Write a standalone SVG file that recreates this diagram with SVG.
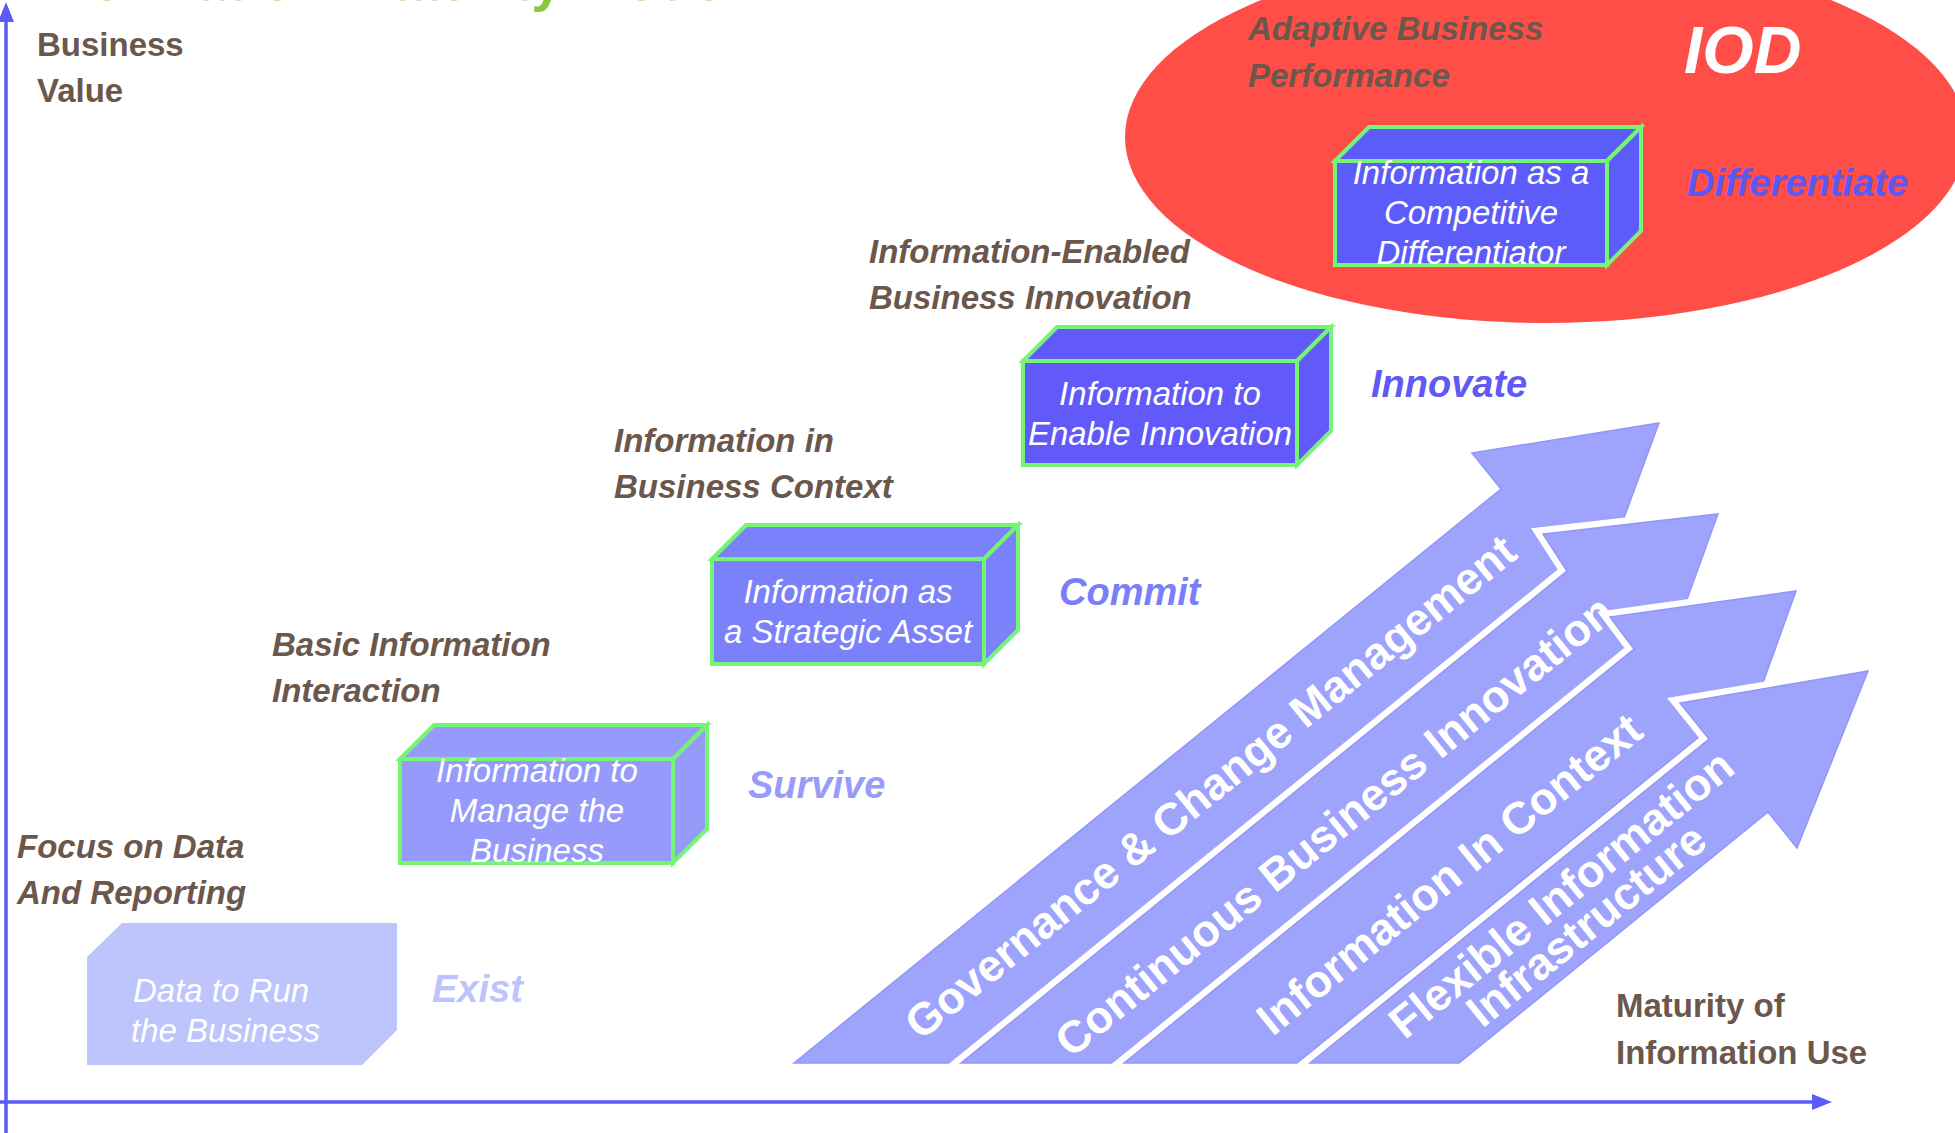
<svg xmlns="http://www.w3.org/2000/svg" xmlns:xlink="http://www.w3.org/1999/xlink" width="1955" height="1133" viewBox="0 0 1955 1133">
<style>
text { font-family: "Liberation Sans", Arial, sans-serif; }
.lbl { font-style: italic; font-weight: bold; font-size: 33px; fill: #6B574C; }
.axl { font-weight: bold; font-size: 33px; fill: #6B574C; }
.stage { font-style: italic; font-weight: bold; font-size: 38px; }
.btx { font-style: italic; font-size: 33px; fill: #FFFFFF; text-anchor: middle; }
.atx { font-weight: bold; font-size: 45px; fill: #FFFFFF; text-anchor: middle; }
.box { stroke: #74F674; stroke-width: 4; stroke-linejoin: miter; }
.arr { fill: #9EA3FC; stroke: #FFFFFF; stroke-width: 14; stroke-linejoin: miter; paint-order: stroke; }
.edge { fill: none; stroke: #9296F7; stroke-width: 1.5; }
.axis { stroke: #5B5BF8; stroke-width: 3.5; fill: none; }
</style>
<defs>
<polygon id="p1" points="794,1063 1501,489 1472,453 1659,423 1593,602 1564,567 953,1063"/>
<polygon id="p2" points="961,1063 1567,571 1543,534 1718,514 1657,682 1628,646 1115,1063"/>
<polygon id="p3" points="1124,1063 1634,649 1610,617 1796,591 1732,769 1703,734 1297,1063"/>
<polygon id="p4" points="1310,1063 1709,739 1680,703 1868,671 1797,848 1768,812 1459,1063"/>
</defs>
<rect width="1955" height="1133" fill="#FFFFFF"/>

<g id="iod-zone">
<ellipse cx="1546" cy="137" rx="421" ry="186" fill="#FF4E48"/>
<text x="1684" y="73" style="font-style:italic;font-weight:bold;font-size:66px;fill:#FFFFFF">IOD</text>
<text class="lbl" x="1248" y="40">Adaptive Business</text>
<text class="lbl" x="1248" y="87">Performance</text>
</g>

<g id="title">
<text x="21" y="0" style="font-weight:bold;font-size:56px;fill:#8DC63F">Information Maturity Model</text>
</g>

<g id="connectors">
<line class="axis" x1="6" y1="1133" x2="6" y2="18"/>
<polygon points="6,2 -2,22 14,22" fill="#5B5BF8"/>
<line class="axis" x1="0" y1="1102" x2="1816" y2="1102"/>
<polygon points="1832,1102 1812,1094 1812,1110" fill="#5B5BF8"/>
</g>

<g id="axis-labels">
<text class="axl" x="37" y="56">Business</text>
<text class="axl" x="37" y="102">Value</text>
<text class="axl" x="1616" y="1017">Maturity of</text>
<text class="axl" x="1616" y="1064">Information Use</text>
</g>

<g id="stage-exist">
<text class="lbl" x="17" y="858">Focus on Data</text>
<text class="lbl" x="17" y="904">And Reporting</text>
<polygon points="87,957 122,923 397,923 397,1030 362,1065 87,1065" fill="#BEC4FC"/>
<text x="133" y="1002" style="font-style:italic;font-size:33px;fill:#FFFFFF">Data to Run</text>
<text x="131" y="1042" style="font-style:italic;font-size:33px;fill:#FFFFFF">the Business</text>
<text class="stage" x="432" y="1002" fill="#BEC4FB">Exist</text>
</g>

<g id="stage-survive">
<text class="lbl" x="272" y="656">Basic Information</text>
<text class="lbl" x="272" y="702">Interaction</text>
<g class="box" fill="#969BFB">
<polygon points="400,759 434,725 707,725 673,759"/>
<polygon points="673,759 707,725 707,829 673,863"/>
<rect x="400" y="759" width="273" height="104"/>
</g>
<text class="btx" x="537" y="782">Information to</text>
<text class="btx" x="537" y="822">Manage the</text>
<text class="btx" x="537" y="862">Business</text>
<text class="stage" x="748" y="798" fill="#979CF9">Survive</text>
</g>

<g id="stage-commit">
<text class="lbl" x="614" y="452">Information in</text>
<text class="lbl" x="614" y="498">Business Context</text>
<g class="box" fill="#7B80FB">
<polygon points="712,559 746,525 1018,525 984,559"/>
<polygon points="984,559 1018,525 1018,630 984,664"/>
<rect x="712" y="559" width="272" height="105"/>
</g>
<text class="btx" x="848" y="603">Information as</text>
<text class="btx" x="848" y="643">a Strategic Asset</text>
<text class="stage" x="1059" y="605" fill="#7A7FF9">Commit</text>
</g>

<g id="stage-innovate">
<text class="lbl" x="869" y="263">Information-Enabled</text>
<text class="lbl" x="869" y="309">Business Innovation</text>
<g class="box" fill="#6259FB">
<polygon points="1023,361 1057,327 1331,327 1297,361"/>
<polygon points="1297,361 1331,327 1331,431 1297,465"/>
<rect x="1023" y="361" width="274" height="104"/>
</g>
<text class="btx" x="1160" y="405">Information to</text>
<text class="btx" x="1160" y="445">Enable Innovation</text>
<text class="stage" x="1371" y="397" fill="#6159F6">Innovate</text>
</g>

<g id="stage-differentiate">
<g class="box" fill="#5C5CFB">
<polygon points="1335,161 1369,127 1641,127 1607,161"/>
<polygon points="1607,161 1641,127 1641,231 1607,265"/>
<rect x="1335" y="161" width="272" height="104"/>
</g>
<text class="btx" x="1471" y="184">Information as a</text>
<text class="btx" x="1471" y="224">Competitive</text>
<text class="btx" x="1471" y="264">Differentiator</text>
<text class="stage" x="1687" y="196" fill="#5B59F5">Differentiate</text>
</g>

<g id="arrows">
<g id="arrow-governance">
<use xlink:href="#p1" href="#p1" class="arr"/>
<use xlink:href="#p1" href="#p1" class="edge"/>
<text class="atx" x="1220" y="799" transform="rotate(-39 1220 799)">Governance &amp; Change Management</text>
</g>
<g id="arrow-innovation">
<use xlink:href="#p2" href="#p2" class="arr"/>
<use xlink:href="#p2" href="#p2" class="edge"/>
<text class="atx" x="1344" y="838" transform="rotate(-39 1344 838)">Continuous Business Innovation</text>
</g>
<g id="arrow-context">
<use xlink:href="#p3" href="#p3" class="arr"/>
<use xlink:href="#p3" href="#p3" class="edge"/>
<text class="atx" x="1459" y="886" transform="rotate(-39 1459 886)">Information In Context</text>
</g>
<g id="arrow-infrastructure">
<use xlink:href="#p4" href="#p4" class="arr"/>
<use xlink:href="#p4" href="#p4" class="edge"/>
<text class="atx" x="1571" y="906" transform="rotate(-39 1571 906)">Flexible Information</text>
<text class="atx" x="1596" y="937" transform="rotate(-39 1596 937)">Infrastructure</text>
</g>
</g>
</svg>
